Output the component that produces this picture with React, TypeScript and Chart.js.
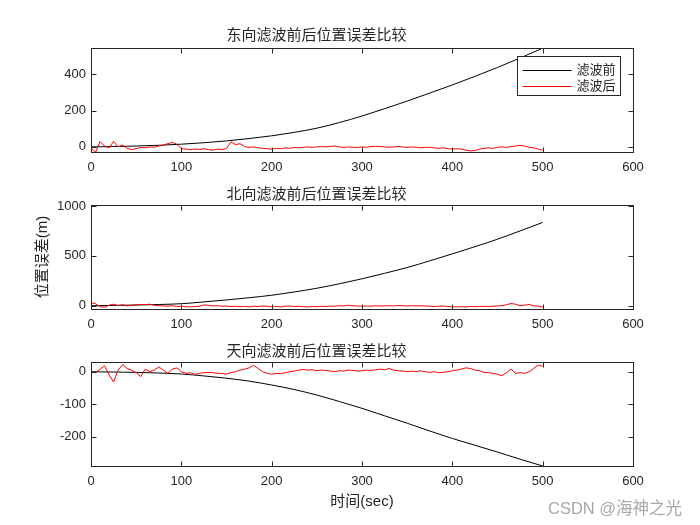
import React, { useEffect, useRef } from "react";
import { Chart, registerables } from "chart.js";

Chart.register(...registerables);

// ---------- data ----------
const TIME_COARSE = [0, 25, 50, 75, 100, 125, 150, 175, 200, 225, 250, 275, 300, 325, 350, 375, 400, 425, 450, 475, 500];

const TIME_FINE = [
  0, 5, 10, 15, 20, 25, 30, 35, 40, 45, 50, 55, 60, 65, 70, 75, 80, 85, 90, 95,
  100, 105, 110, 115, 120, 125, 130, 135, 140, 145, 150, 155, 160, 165, 170, 175, 180, 185, 190, 195,
  200, 205, 210, 215, 220, 225, 230, 235, 240, 245, 250, 255, 260, 265, 270, 275, 280, 285, 290, 295,
  300, 305, 310, 315, 320, 325, 330, 335, 340, 345, 350, 355, 360, 365, 370, 375, 380, 385, 390, 395,
  400, 405, 410, 415, 420, 425, 430, 435, 440, 445, 450, 455, 460, 465, 470, 475, 480, 485, 490, 495, 500,
];

const EAST_BEFORE = [0, 2, 5, 9, 15, 23, 33, 46, 61, 80, 103, 134, 170, 210, 252, 296, 341, 388, 437, 489, 543];
const NORTH_BEFORE = [0, 3, 7, 12, 20, 38, 58, 80, 105, 138, 175, 220, 270, 325, 383, 450, 520, 592, 667, 750, 835];
const UP_BEFORE = [0, -1, -2, -4, -7, -13, -20, -29, -41, -55, -72, -92, -113, -136, -159, -183, -206, -227, -248, -270, -291];

const EAST_AFTER = [
  -5, -30, 30, 5, -5, 30, 0, 10, -8, -15, -10, -3, -5, 0, -2, 5, 10, 18, 25, 15,
  -10, -12, -15, -12, -14, -10, -15, -18, -12, -15, -8, 28, 12, 18, 2, -3, 0, -5, -8, -10,
  -12, -8, -10, -5, -8, -3, -5, -2, 0, -3, 0, 2, 0, 3, 5, 0, -3, 0, -2, -3,
  0, -2, 2, 3, 2, 0, -2, 0, 2, 0, -3, 0, -2, -5, -3, -2, -5, -8, -5, -10,
  -12, -10, -12, -18, -22, -20, -12, -8, -5, -8, -2, 0, -3, 2, 5, 8, 5, -2, -5, -12, -18,
];

const NORTH_AFTER = [
  30, 20, -10, -15, 5, 15, 0, 10, -2, 5, 8, 12, 10, 15, 5, 0, -2, -5, 0, -8,
  -5, -10, -12, -8, -5, 8, 5, -2, 0, -5, -3, -8, -5, -10, -8, -12, -5, -8, -3, -5,
  -10, -8, -12, -5, -3, -8, -5, -10, -12, -8, -10, -5, -8, -3, -5, 0, -2, 5, 0, -3,
  -5, -2, -5, 0, -3, -2, 0, -2, 2, 0, -3, 0, -2, 0, -3, -5, -8, -5, -3, -8,
  -10, -12, -10, -12, -8, -10, -8, -6, -8, -5, -2, 0, 10, 22, 15, 0, 5, 12, 0, -5, -12,
];

const UP_AFTER = [
  0, -3, 8, 18, -10, -32, 5, 22, 10, 5, -3, -15, 8, 0, 5, 15, 5, -5, 8, 12,
  0, -5, -3, -8, -5, -3, -2, -3, -5, -5, -7, -3, 0, 5, 8, 12, 20, 10, 0, -5,
  -8, -5, -6, -3, 0, 2, 5, 7, 5, 6, 3, 5, 4, 2, 0, 3, 2, 5, 4, 2,
  3, 5, 4, 6, 8, 6, 10, 5, 3, 2, 0, 2, 0, 3, 0, -2, 0, -3, -2, 0,
  3, 5, 8, 12, 10, 5, 3, -2, -3, -5, -8, -12, -3, 8, -5, -3, -5, 0, 10, 20, 17,
];

const X_TICK_VALUES = [0, 100, 200, 300, 400, 500, 600];
const EAST_Y_TICKS = [0, 200, 400];
const NORTH_Y_TICKS = [0, 500, 1000];
const UP_Y_TICKS = [-200, -100, 0];

const TITLES = ["东向滤波前后位置误差比较", "北向滤波前后位置误差比较", "天向滤波前后位置误差比较"];
const SERIES_LABELS = ["滤波前", "滤波后"];
const Y_LABEL = "位置误差(m)";
const X_LABEL = "时间(sec)";
const WATERMARK = "CSDN @海神之光";

const FONT = "'Liberation Sans', 'Noto Sans CJK SC', sans-serif";
const AXIS_COLOR = "#262626";

function pairs(xs: number[], ys: number[]) {
  return xs.map((x, i) => ({ x, y: ys[i] }));
}

const boxPlugin = {
  id: "matlabBox",
  afterDraw(chart: any) {
    const { ctx, chartArea: a, scales } = chart;
    const opts = chart.options.plugins.matlabBox || {};
    ctx.save();
    ctx.strokeStyle = AXIS_COLOR;
    ctx.lineWidth = 1;
    const L = Math.round(a.left) + 0.5;
    const R = Math.round(a.right) + 0.5;
    const T = Math.round(a.top) + 0.5;
    const B = Math.round(a.bottom) + 0.5;
    ctx.strokeRect(L, T, R - L, B - T);
    const tl = 5;
    ctx.beginPath();
    scales.x.ticks.forEach((t: any) => {
      const px = Math.round(scales.x.getPixelForValue(t.value)) + 0.5;
      ctx.moveTo(px, B);
      ctx.lineTo(px, B - tl);
      ctx.moveTo(px, T);
      ctx.lineTo(px, T + tl);
    });
    scales.y.ticks.forEach((t: any) => {
      const py = Math.round(scales.y.getPixelForValue(t.value)) + 0.5;
      ctx.moveTo(L, py);
      ctx.lineTo(L + tl, py);
      ctx.moveTo(R, py);
      ctx.lineTo(R - tl, py);
    });
    ctx.stroke();

    if (opts.legend) {
      const ds = chart.data.datasets;
      const w = 103;
      const h = 39;
      const lx = Math.round(a.right - 13) + 0.5 - w;
      const ly = Math.round(a.top + 8) + 0.5;
      ctx.fillStyle = "#fff";
      ctx.fillRect(lx, ly, w, h);
      ctx.strokeStyle = AXIS_COLOR;
      ctx.strokeRect(lx, ly, w, h);
      ctx.font = `13px ${FONT}`;
      ctx.textBaseline = "middle";
      ctx.textAlign = "left";
      ds.forEach((d: any, i: number) => {
        const y = Math.round(ly + 13 + i * 16.7) + 0.5;
        ctx.beginPath();
        ctx.strokeStyle = d.borderColor;
        ctx.moveTo(lx + 5, y);
        ctx.lineTo(lx + 54, y);
        ctx.stroke();
        ctx.fillStyle = AXIS_COLOR;
        ctx.fillText(d.label, lx + 59, y);
      });
    }
    ctx.restore();
  },
};

type PlotProps = {
  top: number;
  height: number;
  title: string;
  titlePad: { top: number; bottom: number };
  before: number[];
  after: number[];
  yMin: number;
  yMax: number;
  yTicks: number[];
  xAxisHeight: number;
  yTitle?: string;
  xTitle?: string;
  legend?: boolean;
};

function SubPlot(p: PlotProps) {
  const ref = useRef<HTMLCanvasElement>(null);
  useEffect(() => {
    if (!ref.current) return;
    const chart = new Chart(ref.current, {
      type: "line",
      data: {
        datasets: [
          {
            label: SERIES_LABELS[0],
            data: pairs(TIME_COARSE, p.before),
            borderColor: "#000000",
            borderWidth: 1,
            pointRadius: 0,
            cubicInterpolationMode: "monotone",
            order: 1,
          },
          {
            label: SERIES_LABELS[1],
            data: pairs(TIME_FINE, p.after),
            borderColor: "#ff0000",
            borderWidth: 1,
            pointRadius: 0,
            tension: 0,
            order: 0,
          },
        ],
      },
      options: {
        responsive: false,
        animation: false,
        events: [],
        layout: { padding: { left: 0, right: 67, top: 0, bottom: 0 }, autoPadding: false },
        plugins: {
          legend: { display: false },
          tooltip: { enabled: false },
          title: {
            display: true,
            text: p.title,
            color: AXIS_COLOR,
            font: { family: FONT, size: 15, weight: "normal" },
            padding: p.titlePad,
          },
          matlabBox: { legend: !!p.legend },
        } as any,
        scales: {
          x: {
            type: "linear",
            min: X_TICK_VALUES[0],
            max: X_TICK_VALUES[X_TICK_VALUES.length - 1],
            grid: { display: false, drawTicks: false },
            border: { display: false },
            afterBuildTicks: (s: any) => {
              s.ticks = X_TICK_VALUES.map((v) => ({ value: v }));
            },
            ticks: {
              color: AXIS_COLOR,
              font: { family: FONT, size: 13 },
              padding: 8,
              maxRotation: 0,
              autoSkip: false,
              callback: (v: any) => String(v),
            },
            title: {
              display: !!p.xTitle,
              text: p.xTitle || "",
              color: AXIS_COLOR,
              font: { family: FONT, size: 15 },
              padding: { top: 0, bottom: 14 },
            },
            afterFit: (s: any) => {
              s.height = p.xAxisHeight;
            },
          },
          y: {
            type: "linear",
            min: p.yMin,
            max: p.yMax,
            grid: { display: false, drawTicks: false },
            border: { display: false },
            afterBuildTicks: (s: any) => {
              s.ticks = p.yTicks.map((v) => ({ value: v }));
            },
            ticks: {
              color: AXIS_COLOR,
              font: { family: FONT, size: 13 },
              padding: 5,
              autoSkip: false,
              callback: (v: any) => String(v),
            },
            title: {
              display: !!p.yTitle,
              text: p.yTitle || "",
              color: AXIS_COLOR,
              font: { family: FONT, size: 15 },
              padding: { top: 34, bottom: 0 },
            },
            afterFit: (s: any) => {
              s.width = 91;
            },
          },
        },
      } as any,
      plugins: [boxPlugin as any],
    });
    return () => chart.destroy();
  }, []);
  return (
    <canvas
      ref={ref}
      width={700}
      height={p.height}
      style={{ position: "absolute", left: 0, top: p.top, width: 700, height: p.height }}
    />
  );
}

export default function App() {
  return (
    <div style={{ position: "fixed", left: 0, top: 0, width: 700, height: 525, background: "#fff", overflow: "hidden" }}>
      <SubPlot
        top={0}
        height={175}
        title={TITLES[0]}
        titlePad={{ top: 27, bottom: 3 }}
        before={EAST_BEFORE}
        after={EAST_AFTER}
        yMin={-28}
        yMax={544}
        yTicks={EAST_Y_TICKS}
        xAxisHeight={23}
        legend
      />
      <SubPlot
        top={175}
        height={157}
        title={TITLES[1]}
        titlePad={{ top: 11, bottom: 1 }}
        before={NORTH_BEFORE}
        after={NORTH_AFTER}
        yMin={-33}
        yMax={1010}
        yTicks={NORTH_Y_TICKS}
        xAxisHeight={23}
        yTitle={Y_LABEL}
      />
      <SubPlot
        top={332}
        height={193}
        title={TITLES[2]}
        titlePad={{ top: 11, bottom: 1 }}
        before={UP_BEFORE}
        after={UP_AFTER}
        yMin={-291}
        yMax={30}
        yTicks={UP_Y_TICKS}
        xAxisHeight={59}
        xTitle={X_LABEL}
      />
      <div
        style={{
          position: "absolute",
          left: 548,
          top: 497,
          fontFamily: FONT,
          fontSize: 16.5,
          color: "#a8a8a8",
          whiteSpace: "nowrap",
          lineHeight: "22px",
        }}
      >
        {WATERMARK}
      </div>
    </div>
  );
}
